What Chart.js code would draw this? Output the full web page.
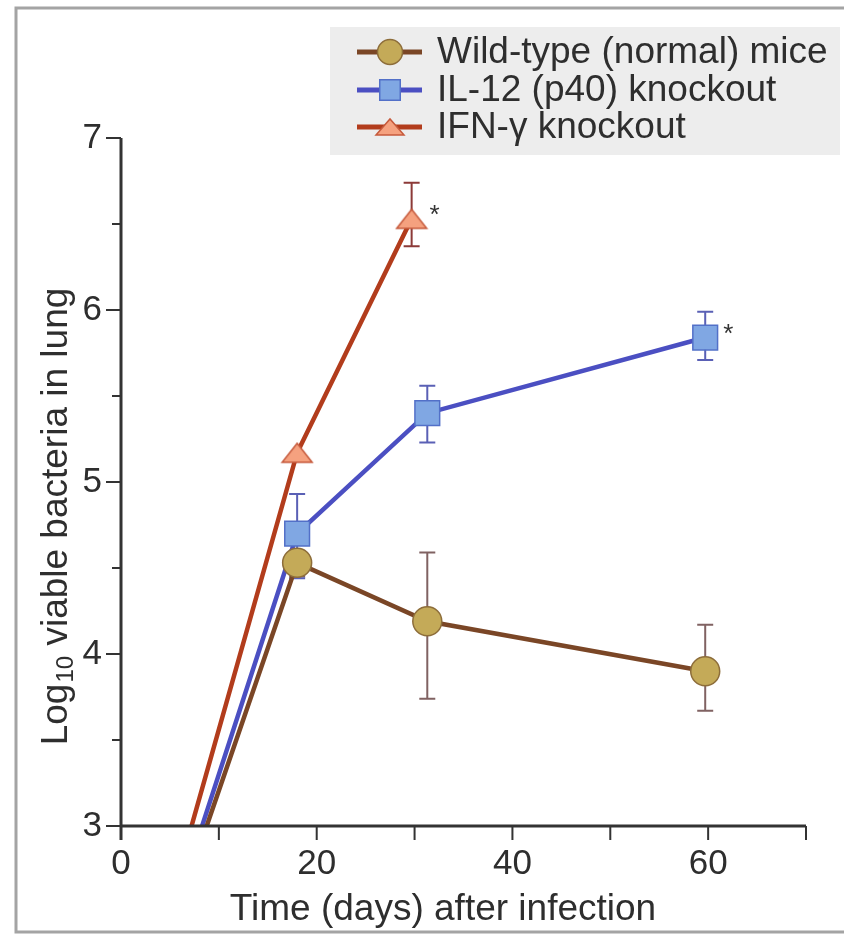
<!DOCTYPE html>
<html><head><meta charset="utf-8">
<script src="https://cdn.jsdelivr.net/npm/chart.js@4.4.0/dist/chart.umd.min.js"></script>
<style>html,body{margin:0;padding:0;background:#fff}canvas{display:block}</style>
</head><body>
<canvas id="c" width="844" height="940"></canvas>
<script>
// ---- data ----
const seriesNames = ['Wild-type (normal) mice', 'IL-12 (p40) knockout', 'IFN-\u03b3 knockout'];
const wtDays = [0, 18, 31.3, 59.7];
const wtLog = [1.55, 4.53, 4.19, 3.90];
const wtErrLow = [null, 4.45, 3.74, 3.67];
const wtErrHigh = [null, 4.60, 4.59, 4.17];
const il12Days = [0, 18, 31.3, 59.7];
const il12Log = [1.55, 4.70, 5.40, 5.84];
const il12ErrLow = [null, 4.44, 5.23, 5.71];
const il12ErrHigh = [null, 4.93, 5.56, 5.99];
const ifnDays = [0, 18, 29.7];
const ifnLog = [1.55, 5.17, 6.53];
const ifnErrLow = [null, null, 6.37];
const ifnErrHigh = [null, null, 6.74];
const wtStar = [false, false, false, false];
const il12Star = [false, false, false, true];
const ifnStar = [false, false, true];
const xTickLabels = [0, 20, 40, 60];
const yTickLabels = [3, 4, 5, 6, 7];
const xTitle = 'Time (days) after infection';
const yTitleMain = 'Log';
const yTitleSub = '10';
const yTitleRest = ' viable bacteria in lung';

const FONT = '"Liberation Sans", Arial, Helvetica, sans-serif';
const TXT = '#2e2e2e';

function makeTriangle(w, h, fill, stroke) {
  const c = document.createElement('canvas');
  c.width = w + 4; c.height = h + 4;
  const g = c.getContext('2d');
  g.beginPath();
  g.moveTo(2, h + 2); g.lineTo(w + 2, h + 2); g.lineTo(w / 2 + 2, 2); g.closePath();
  g.fillStyle = fill; g.fill();
  g.lineWidth = 1.5; g.strokeStyle = stroke; g.stroke();
  return c;
}
const triPlot = makeTriangle(30, 19, '#f5a17f', '#c65a3c');
const triLegend = makeTriangle(28, 16, '#f5a17f', '#c65a3c');

const styles = [
  {line: '#7a4626', fill: '#c4aa58', border: '#8d6d3a', err: '#806262', style: 'circle', radius: 14.5, lRadius: 12.5},
  {line: '#4b4fc2', fill: '#80a7e3', border: '#5270c8', err: '#5a60b5', style: 'rect', radius: 17.5, lRadius: 14.5},
  {line: '#b23c1c', fill: '#f5a17f', border: '#c65a3c', err: '#8c3a38', style: triPlot, radius: 16, lRadius: 12, legendStyle: triLegend}
];
const errLows = [wtErrLow, il12ErrLow, ifnErrLow];
const errHighs = [wtErrHigh, il12ErrHigh, ifnErrHigh];
const stars = [wtStar, il12Star, ifnStar];

function pts(xs, ys) { return xs.map((x, i) => ({x: x, y: ys[i]})); }

const decor = {
  id: 'decor',
  beforeDraw(chart) {
    const ctx = chart.ctx;
    ctx.save();
    ctx.fillStyle = '#fff';
    ctx.fillRect(0, 0, chart.width, chart.height);
    ctx.strokeStyle = '#a4a4a4';
    ctx.lineWidth = 3;
    ctx.beginPath();
    ctx.moveTo(chart.width + 5, 8); ctx.lineTo(16, 8); ctx.lineTo(16, 932); ctx.lineTo(chart.width + 5, 932);
    ctx.stroke();
    ctx.restore();
  },
  beforeDatasetsDraw(chart) {
    const ctx = chart.ctx, xs = chart.scales.x, ys = chart.scales.y;
    ctx.save();
    chart.data.datasets.forEach((ds, di) => {
      ctx.strokeStyle = styles[di].err;
      ctx.lineWidth = 2;
      ds.data.forEach((p, i) => {
        const lo = errLows[di][i], hi = errHighs[di][i];
        if (lo == null || hi == null) return;
        const x = xs.getPixelForValue(p.x);
        const y1 = ys.getPixelForValue(lo), y2 = ys.getPixelForValue(hi);
        ctx.beginPath();
        ctx.moveTo(x, y1); ctx.lineTo(x, y2);
        ctx.moveTo(x - 8, y1); ctx.lineTo(x + 8, y1);
        ctx.moveTo(x - 8, y2); ctx.lineTo(x + 8, y2);
        ctx.stroke();
      });
    });
    ctx.restore();
  },
  afterDraw(chart) {
    const ctx = chart.ctx, xs = chart.scales.x, ys = chart.scales.y, a = chart.chartArea;
    ctx.save();
    // axes
    ctx.strokeStyle = '#333';
    ctx.lineWidth = 3;
    ctx.lineCap = 'butt';
    ctx.beginPath();
    ctx.moveTo(a.left, ys.getPixelForValue(7)); ctx.lineTo(a.left, a.bottom + 14);
    ctx.moveTo(a.left, a.bottom); ctx.lineTo(xs.getPixelForValue(70), a.bottom);
    ctx.stroke();
    ctx.lineWidth = 2;
    ctx.beginPath();
    for (let v = 3; v <= 7.001; v += 0.5) {
      const y = ys.getPixelForValue(v);
      const len = Number.isInteger(v) ? 15 : 9;
      ctx.moveTo(a.left - len, y); ctx.lineTo(a.left, y);
    }
    for (let d = 10; d <= 70; d += 10) {
      const x = xs.getPixelForValue(d);
      ctx.moveTo(x, a.bottom); ctx.lineTo(x, a.bottom + 14);
    }
    ctx.stroke();
    // asterisks
    ctx.fillStyle = '#333';
    ctx.font = '26px ' + FONT;
    ctx.textAlign = 'center';
    ctx.textBaseline = 'alphabetic';
    chart.data.datasets.forEach((ds, di) => {
      const meta = chart.getDatasetMeta(di);
      stars[di].forEach((s, i) => {
        if (!s) return;
        const el = meta.data[i];
        ctx.fillText('*', el.x + 23, el.y + 4);
      });
    });
    // axis titles
    ctx.fillStyle = TXT;
    ctx.font = '37px ' + FONT;
    ctx.textAlign = 'center';
    ctx.fillText(xTitle, 443, 920);
    ctx.save();
    ctx.translate(67, 517);
    ctx.rotate(-Math.PI / 2);
    ctx.textAlign = 'left';
    ctx.font = '37px ' + FONT;
    const w1 = ctx.measureText(yTitleMain).width;
    const w3 = ctx.measureText(yTitleRest).width;
    ctx.font = '24px ' + FONT;
    const w2 = ctx.measureText(yTitleSub).width;
    let sx = -(w1 + w2 + w3) / 2;
    ctx.font = '37px ' + FONT;
    ctx.fillText(yTitleMain, sx, 0);
    ctx.font = '24px ' + FONT;
    ctx.fillText(yTitleSub, sx + w1 + 1, 6);
    ctx.font = '37px ' + FONT;
    ctx.fillText(yTitleRest, sx + w1 + w2 + 1, 0);
    ctx.restore();
    // legend
    ctx.fillStyle = '#ededed';
    ctx.fillRect(330, 27, 510, 128);
    const rows = [52, 90, 127];
    seriesNames.forEach((name, i) => {
      const st = styles[i], y = rows[i];
      ctx.strokeStyle = st.line;
      ctx.lineWidth = 5;
      ctx.beginPath(); ctx.moveTo(357, y); ctx.lineTo(422, y); ctx.stroke();
      ctx.fillStyle = st.fill; ctx.strokeStyle = st.border; ctx.lineWidth = 1.5;
      Chart.helpers.drawPoint(ctx, {pointStyle: st.legendStyle || st.style, radius: st.lRadius, borderWidth: 1.5, rotation: 0}, 390, y);
      ctx.fillStyle = TXT;
      ctx.font = '37px ' + FONT;
      ctx.textAlign = 'left';
      ctx.textBaseline = 'middle';
      ctx.fillText(name, 437, y + 1);
    });
    ctx.restore();
  }
};

const datasets = [
  {label: seriesNames[0], data: pts(wtDays, wtLog)},
  {label: seriesNames[1], data: pts(il12Days, il12Log)},
  {label: seriesNames[2], data: pts(ifnDays, ifnLog)}
].map((d, i) => Object.assign(d, {
  borderColor: styles[i].line,
  borderWidth: 4.5,
  backgroundColor: styles[i].fill,
  pointBackgroundColor: styles[i].fill,
  pointBorderColor: styles[i].border,
  pointBorderWidth: 1.5,
  pointStyle: styles[i].style,
  pointRadius: (ctx) => ctx.dataIndex === 0 ? 0 : styles[i].radius,
  pointHoverRadius: (ctx) => ctx.dataIndex === 0 ? 0 : styles[i].radius,
  tension: 0,
  fill: false
}));

new Chart(document.getElementById('c'), {
  type: 'line',
  data: {datasets: datasets},
  options: {
    responsive: false,
    animation: false,
    events: [],
    layout: {padding: {left: 0, right: 38, top: 138, bottom: 0}},
    plugins: {legend: {display: false}, tooltip: {enabled: false}},
    scales: {
      x: {
        type: 'linear', min: 0, max: 70,
        afterFit(s) { s.height = 114; },
        grid: {display: false, drawTicks: false},
        border: {display: false},
        ticks: {
          stepSize: 10, autoSkip: false, maxRotation: 0, padding: 17,
          color: TXT, font: {family: FONT, size: 35},
          callback: (v) => xTickLabels.includes(v) ? String(v) : ''
        }
      },
      y: {
        type: 'linear', min: 3, max: 7,
        afterFit(s) { s.width = 121; },
        grid: {display: false, drawTicks: false},
        border: {display: false},
        ticks: {
          stepSize: 0.5, autoSkip: false, padding: 19,
          color: TXT, font: {family: FONT, size: 35},
          callback: (v) => yTickLabels.includes(v) ? String(v) : ''
        }
      }
    }
  },
  plugins: [decor]
});
</script>
</body></html>
